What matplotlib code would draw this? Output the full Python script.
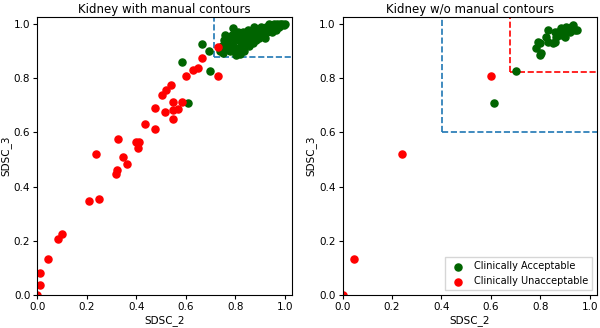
import matplotlib
matplotlib.use("Agg")
import matplotlib.pyplot as plt

# --- left panel: kidney with manual contours ---
with_red_x = [0.730, 0.666, 0.629, 0.651, 0.602, 0.730, 0.540, 0.519, 0.504, 0.548,
              0.583, 0.570, 0.548, 0.518, 0.474, 0.548, 0.434, 0.475, 0.325, 0.399,
              0.410, 0.408, 0.236, 0.348, 0.364, 0.323, 0.318, 0.209, 0.248, 0.101,
              0.086, 0.043, 0.013, 0.013, 0.0]
with_red_y = [0.914, 0.873, 0.829, 0.837, 0.809, 0.809, 0.775, 0.757, 0.738, 0.714,
              0.714, 0.687, 0.683, 0.675, 0.690, 0.650, 0.631, 0.612, 0.575, 0.563,
              0.563, 0.544, 0.521, 0.510, 0.483, 0.463, 0.445, 0.347, 0.355, 0.225,
              0.208, 0.133, 0.079, 0.038, 0.0]

with_green_x = [0.586, 0.664, 0.694, 0.697, 0.609,
                0.740, 0.745, 0.750, 0.755, 0.760, 0.770, 0.775, 0.780, 0.785, 0.790,
                0.790, 0.800, 0.805, 0.810, 0.815, 0.820, 0.825, 0.830, 0.835, 0.840,
                0.845, 0.850, 0.855, 0.860, 0.865, 0.870, 0.875, 0.880, 0.885, 0.890,
                0.895, 0.900, 0.905, 0.910, 0.915, 0.920, 0.925, 0.930, 0.935, 0.940,
                0.945, 0.950, 0.955, 0.960, 0.965, 0.970, 0.975, 0.980, 0.985, 0.990,
                0.995, 1.000, 0.760, 0.800, 0.820, 0.810, 0.850, 0.870, 0.890, 0.910,
                0.930, 0.950, 0.770, 0.840, 0.900]
with_green_y = [0.861, 0.928, 0.899, 0.826, 0.707,
                0.900, 0.920, 0.894, 0.940, 0.910, 0.930, 0.950, 0.900, 0.960, 0.920,
                0.986, 0.940, 0.886, 0.970, 0.910, 0.950, 0.930, 0.970, 0.900, 0.960,
                0.940, 0.980, 0.920, 0.950, 0.970, 0.930, 0.990, 0.960, 0.940, 0.980,
                0.950, 0.970, 0.990, 0.960, 0.980, 0.950, 0.990, 0.970, 1.000, 0.980,
                0.990, 0.970, 1.000, 0.990, 0.980, 1.000, 0.990, 1.000, 0.995, 1.000,
                0.998, 1.000, 0.960, 0.910, 0.890, 0.950, 0.955, 0.960, 0.965, 0.975,
                0.985, 0.990, 0.915, 0.925, 0.955]

# --- right panel: kidney w/o manual contours ---
wo_red_x = [0.602, 0.240, 0.047, 0.0]
wo_red_y = [0.809, 0.521, 0.133, 0.0]

wo_green_x = [0.612, 0.701, 0.782, 0.798, 0.804, 0.801, 0.832, 0.832, 0.859, 0.866,
              0.872, 0.886, 0.892, 0.905, 0.919, 0.932, 0.939, 0.950, 0.852, 0.825,
              0.879, 0.912, 0.899, 0.925, 0.859, 0.791]
wo_green_y = [0.707, 0.825, 0.911, 0.930, 0.893, 0.887, 0.979, 0.935, 0.935, 0.954,
              0.972, 0.986, 0.966, 0.991, 0.972, 0.997, 0.979, 0.979, 0.929, 0.954,
              0.960, 0.985, 0.954, 0.991, 0.972, 0.935]

# threshold boxes (x0, y0)
with_box = (0.716, 0.880)
wo_box_blue = (0.403, 0.600)
wo_box_red = (0.679, 0.822)

green = "#006400"
red = "#ff0000"
blue = "#1f77b4"

fig = plt.figure(figsize=(6.0, 3.28), dpi=100)
ax1 = fig.add_axes([0.062, 0.101, 0.425, 0.847])
ax2 = fig.add_axes([0.571, 0.101, 0.424, 0.847])


def draw_box(ax, corner, color):
    x0, y0 = corner
    ax.plot([x0, x0], [y0, 1.1], ls="--", color=color, lw=1.2, zorder=1)
    ax.plot([x0, 1.1], [y0, y0], ls="--", color=color, lw=1.2, zorder=1)


ax1.scatter(with_green_x, with_green_y, s=26, color=green, zorder=2)
ax1.scatter(with_red_x, with_red_y, s=26, color=red, zorder=2)
draw_box(ax1, with_box, blue)
ax1.set_title("Kidney with manual contours", fontsize=8.5, pad=3)

ax2.scatter(wo_green_x, wo_green_y, s=26, color=green, zorder=2, label="Clinically Acceptable")
ax2.scatter(wo_red_x, wo_red_y, s=26, color=red, zorder=2, label="Clinically Unacceptable")
draw_box(ax2, wo_box_blue, blue)
draw_box(ax2, wo_box_red, red)
ax2.set_title("Kidney w/o manual contours", fontsize=8.5, pad=3)
ax2.legend(loc="lower right", fontsize=7, handletextpad=0.6, borderpad=0.4, fancybox=False)

for ax in (ax1, ax2):
    ax.set_xlim(0, 1.03)
    ax.set_ylim(0, 1.026)
    ax.set_xticks([0.0, 0.2, 0.4, 0.6, 0.8, 1.0])
    ax.set_yticks([0.0, 0.2, 0.4, 0.6, 0.8, 1.0])
    ax.tick_params(labelsize=7.5, length=3, pad=2)
    ax.set_xlabel("SDSC_2", fontsize=7.5, labelpad=2)
    ax.set_ylabel("SDSC_3", fontsize=7.5, labelpad=2)

plt.savefig("out.png", dpi=100)
plt.close(fig)
